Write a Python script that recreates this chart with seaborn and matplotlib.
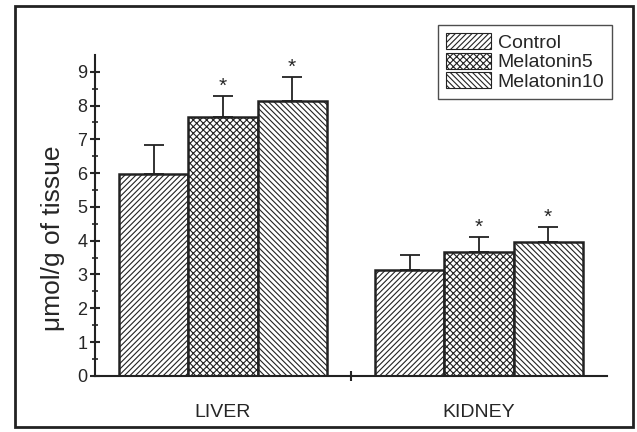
import numpy as np
import pandas as pd
import matplotlib
matplotlib.use("Agg")
import matplotlib.pyplot as plt
import seaborn as sns
from matplotlib.patches import Rectangle

# data
organs = ["LIVER", "KIDNEY"]
groups = ["Control", "Melatonin5", "Melatonin10"]
control = [5.97, 3.13]
melatonin5 = [7.65, 3.66]
melatonin10 = [8.12, 3.95]
control_err = [0.85, 0.45]
melatonin5_err = [0.63, 0.44]
melatonin10_err = [0.72, 0.45]
significant = {"Control": False, "Melatonin5": True, "Melatonin10": True}

means = {"Control": control, "Melatonin5": melatonin5, "Melatonin10": melatonin10}
errs = {"Control": control_err, "Melatonin5": melatonin5_err, "Melatonin10": melatonin10_err}

rows = []
for g in groups:
    for i, o in enumerate(organs):
        rows.append({"organ": o, "group": g, "value": means[g][i], "err": errs[g][i]})
df = pd.DataFrame(rows)

sns.set_style("ticks")
plt.rcParams["font.family"] = ["Liberation Sans", "DejaVu Sans"]
plt.rcParams["hatch.linewidth"] = 0.8

fig = plt.figure(figsize=(6.37, 4.32), dpi=100)
ax = fig.add_axes([0.149, 0.130, 0.804, 0.743])

sns.barplot(data=df, x="organ", y="value", hue="group", order=organs, hue_order=groups,
            palette=["white"] * 3, edgecolor="#222222", linewidth=1.8, width=0.81,
            errorbar=None, saturation=1, ax=ax, legend=False)

hatches = {"Control": "//////", "Melatonin5": "xxxxx", "Melatonin10": "\\\\\\\\\\\\"}
for container, g in zip(ax.containers, groups):
    for k, bar in enumerate(container):
        bar.set_hatch(hatches[g])
        x = bar.get_x() + bar.get_width() / 2
        h = bar.get_height()
        e = errs[g][k]
        ax.errorbar(x, h, yerr=[[0], [e]], fmt="none", ecolor="#222222",
                    elinewidth=1.3, capsize=7, capthick=1.3, zorder=1)
        if significant[g]:
            ax.text(x, h + e + 0.02, "*", ha="center", va="bottom", fontsize=15)

ax.set_ylim(0, 9.5)
ax.set_xlim(-0.5, 1.5)
ax.set_yticks(np.arange(0, 10, 1))
ax.set_yticks(np.arange(0, 9.5, 0.5), minor=True)
ax.set_xticks([0, 1])
ax.set_xticks([0.5], minor=True)
ax.tick_params(axis="y", which="major", direction="inout", length=7, width=1.5, labelsize=13, pad=2)
ax.tick_params(axis="y", which="minor", direction="inout", length=4, width=1.2)
ax.tick_params(axis="x", which="major", length=0, labelsize=14, pad=20)
ax.tick_params(axis="x", which="minor", direction="inout", length=7, width=1.5)
ax.set_xlabel("")
ax.set_ylabel("μmol/g of tissue", fontsize=19)
ax.yaxis.set_label_coords(-0.058, 0.43)
sns.despine(ax=ax)
for s in ["left", "bottom"]:
    ax.spines[s].set_linewidth(1.5)
    ax.spines[s].set_color("#222222")

handles = [Rectangle((0, 0), 1, 1, facecolor="white", edgecolor="#222222",
                     linewidth=0.8, hatch=hatches[g]) for g in groups]
leg = fig.legend(handles, groups, loc="upper right", bbox_to_anchor=(0.961, 0.942),
                 borderaxespad=0, fontsize=14, frameon=True, fancybox=False,
                 handlelength=2.3, handleheight=0.9, handletextpad=0.35,
                 labelspacing=0.05, borderpad=0.4)
leg.get_frame().set_edgecolor("#222222")
leg.get_frame().set_linewidth(1.0)

fig.patches.append(Rectangle((0.024, 0.012), 0.969, 0.974, transform=fig.transFigure,
                             fill=False, edgecolor="#222222", linewidth=2))

fig.savefig("out.png", dpi=100)
